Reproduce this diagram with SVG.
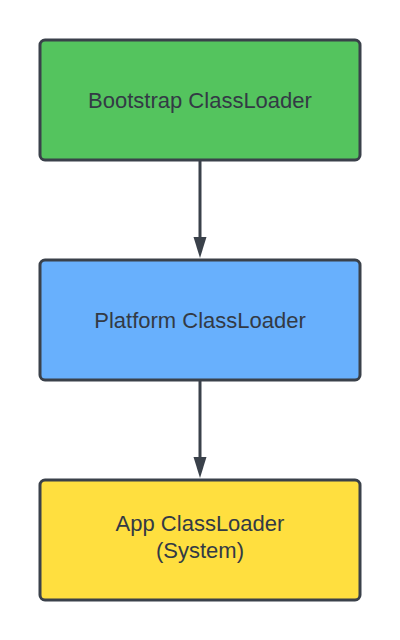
<svg xmlns="http://www.w3.org/2000/svg" width="400" height="640" viewBox="0 0 400 640">
<style>
.box{stroke:#3a414a;stroke-width:3}
.lbl{font-family:"Liberation Sans",Arial,sans-serif;font-size:22px;fill:#333a45;text-anchor:middle}
.edge{stroke:#3a414a;stroke-width:3;fill:none}
.head{fill:#3a414a}
</style>
<rect width="400" height="640" fill="#ffffff"/>
<g id="connectors">
<path class="edge" d="M200,161 L200,240"/>
<path class="head" d="M193.5,237 L206.5,237 L200,258 Z"/>
<path class="edge" d="M200,381 L200,460"/>
<path class="head" d="M193.5,457 L206.5,457 L200,478 Z"/>
</g>
<g id="bootstrap">
<rect class="box" x="40" y="40" width="320" height="120" rx="5" fill="#54c45e"/>
<text class="lbl" x="200" y="107.5">Bootstrap ClassLoader</text>
</g>
<g id="platform">
<rect class="box" x="40" y="260" width="320" height="120" rx="5" fill="#68b0fd"/>
<text class="lbl" x="200" y="327.5">Platform ClassLoader</text>
</g>
<g id="app">
<rect class="box" x="40" y="480" width="320" height="120" rx="5" fill="#ffdf3f"/>
<text class="lbl" x="200" y="531">App ClassLoader</text>
<text class="lbl" x="200" y="558">(System)</text>
</g>
</svg>
